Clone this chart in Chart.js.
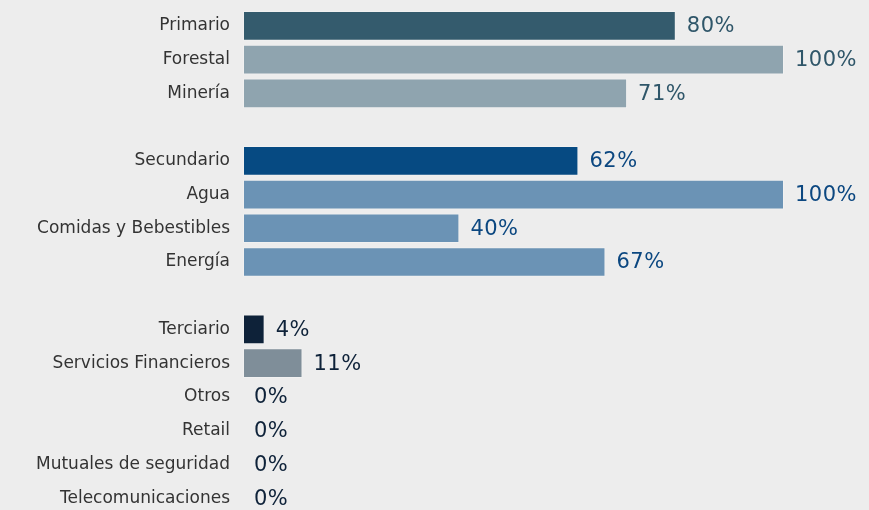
<!DOCTYPE html>
<html>
<head>
<meta charset="utf-8">
<script src="https://cdn.jsdelivr.net/npm/chart.js@4/dist/chart.umd.min.js"></script>
<style>
  html, body { margin: 0; padding: 0; background: #ededed; overflow: hidden; }
  canvas { display: block; }
</style>
</head>
<body>
<canvas id="sectorChart" width="869" height="516"></canvas>
<script>
// Categories (empty strings are the gaps between sector groups)
const categories = [
  'Primario', 'Forestal', 'Minería', '',
  'Secundario', 'Agua', 'Comidas y Bebestibles', 'Energía', '',
  'Terciario', 'Servicios Financieros', 'Otros', 'Retail',
  'Mutuales de seguridad', 'Telecomunicaciones'
];
// Percentage per category
const values = [80, 100, 71, null, 62, 100, 40, 67, null, 4, 11, 0, 0, 0, 0];

// Bar fill / value label colours
const barColors = [
  '#345b6d', '#8fa4af', '#8fa4af', 'transparent',
  '#064a82', '#6b93b5', '#6b93b5', '#6b93b5', 'transparent',
  '#0e2239', '#7f8e99', '#7f8e99', '#7f8e99', '#7f8e99', '#7f8e99'
];
const labelColors = [
  '#2f5669', '#2f5669', '#2f5669', '',
  '#0b4780', '#0b4780', '#0b4780', '#0b4780', '',
  '#0e2239', '#0e2239', '#0e2239', '#0e2239', '#0e2239', '#0e2239'
];

// Draws "NN%" right after each bar
const valueLabels = {
  id: 'valueLabels',
  afterDatasetsDraw(chart) {
    const ctx = chart.ctx;
    const meta = chart.getDatasetMeta(0);
    ctx.save();
    ctx.font = '500 21px "DejaVu Sans", sans-serif';
    ctx.letterSpacing = '0.5px';
    ctx.textBaseline = 'middle';
    ctx.textAlign = 'left';
    meta.data.forEach((bar, i) => {
      if (values[i] === null) return;
      ctx.fillStyle = labelColors[i];
      ctx.fillText(values[i] + '%', bar.x + 11, bar.y + 1);
    });
    ctx.restore();
  }
};

new Chart(document.getElementById('sectorChart').getContext('2d'), {
  type: 'bar',
  data: {
    labels: categories,
    datasets: [{
      data: values,
      backgroundColor: barColors,
      borderColor: 'rgba(255,255,255,0.25)',
      borderWidth: 1,
      borderSkipped: false,
      categoryPercentage: 1,
      barPercentage: 0.88
    }]
  },
  options: {
    indexAxis: 'y',
    responsive: false,
    animation: false,
    layout: { padding: { top: 9, bottom: 1, left: 0, right: 85 } },
    plugins: {
      legend: { display: false },
      tooltip: { enabled: false }
    },
    scales: {
      x: {
        display: false,
        min: 0,
        max: 100
      },
      y: {
        grid: { display: false, drawTicks: false },
        border: { display: false },
        afterFit(scale) {
          scale.width = 243;
          scale.paddingTop = 0;
          scale.paddingBottom = 0;
        },
        ticks: {
          padding: 13,
          color: '#333333',
          font: { family: '"DejaVu Sans", sans-serif', size: 17 }
        }
      }
    }
  },
  plugins: [valueLabels]
});
</script>
</body>
</html>
